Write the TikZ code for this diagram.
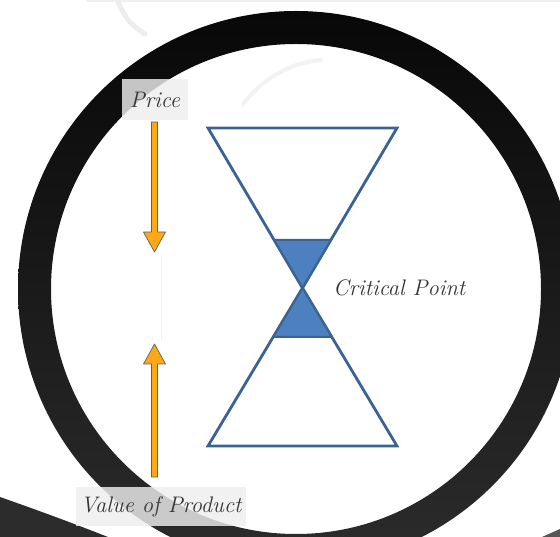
\documentclass[tikz,border=0pt]{standalone}
\usepackage{xcolor}
\usepackage{tikz}
\usetikzlibrary{positioning, calc}
\definecolor{ringtop}{RGB}{8, 8, 8}
\definecolor{ringbottom}{RGB}{44, 44, 44}
\definecolor{hgblue}{RGB}{76, 128, 190}
\definecolor{hgedge}{RGB}{58, 99, 148}
\definecolor{arroworange}{RGB}{255, 168, 22}
\definecolor{arrowedge}{RGB}{95, 95, 95}
\definecolor{labelgray}{RGB}{52, 52, 52}
\definecolor{tagfill}{RGB}{238, 238, 238}

\begin{document}
\begin{tikzpicture}[x=1pt, y=-1pt,
    tag/.style={fill=tagfill, fill opacity=0.82, text opacity=1, text=labelgray,
                font=\fontsize{22.5}{27}\selectfont\itshape, inner sep=0pt},
    hglass/.style={draw=hgedge, line width=2.8pt, fill=white},
    sand/.style={draw=hgedge, line width=2pt, fill=hgblue, line join=round},
    valarrow/.style={fill=arroworange, draw=arrowedge, line width=0.7pt, line join=round}]
  \useasboundingbox (0,0) rectangle (560,537);
  \clip (0,0) rectangle (560,537);

  % Ghost strokes
  \draw[black!6, line width=2pt] (86,1) -- (560,1);
  \draw[black!7, line width=5pt, line cap=round] (145,34) .. controls (128,22) .. (118,2);
  \draw[black!5, line width=4pt, line cap=round] (243,104) .. controls (270,70) and (300,62) .. (321,60);

  % Ring
  \coordinate (ringc) at (296,289);
  \shade[top color=ringtop, bottom color=ringbottom, even odd rule]
    (ringc) circle (278) (ringc) circle (245);
  \fill[ringbottom] (0,497) .. controls (40,511) and (75,524) .. (108,537) -- (0,537) -- cycle;
  \fill[ringbottom!80] (542,537) -- (560,529) -- (560,537) -- cycle;

  % Hourglass
  \coordinate (topL) at (208,128);
  \coordinate (topR) at (397,128);
  \coordinate (waist) at (302.5,288);
  \coordinate (botL) at (208,446);
  \coordinate (botR) at (397,446);
  \draw[hglass] (topL) -- (topR) -- (waist) -- cycle;
  \draw[hglass] (botL) -- (botR) -- (waist) -- cycle;
  \draw[sand] ($(waist)!0.30!(topL)$) -- ($(waist)!0.30!(topR)$) -- (waist) -- cycle;
  \draw[sand] ($(waist)!0.31!(botL)$) -- ($(waist)!0.31!(botR)$) -- (waist) -- cycle;

  % Labels
  \node[tag, minimum width=66pt, minimum height=41pt] (price) at (155,99.5) {Price};
  \node[tag, minimum width=170pt, minimum height=39pt] (value) at (161,506.5) {Value of Product};
  \node[font=\fontsize{22.5}{27}\selectfont\itshape, text=labelgray, right=27pt of waist] (critical) {Critical Point};

  % Arrows
  \coordinate (pricetail) at (154.5,122);
  \coordinate (valuetail) at (154.5,477);
  \draw[black!6, line width=0.6pt] (161,255) -- (161,340);
  \foreach \name/\len/\hd/\hu in {pricetail/110/20/-20, valuetail/-113/-20/20}
    \filldraw[valarrow] (\name) ++(-3,0) -- ++(0,\len) -- ++(-8,0) -- ++(11,\hd)
      -- ++(11,\hu) -- ++(-8,0) -- ++(0,-\len) -- cycle;
\end{tikzpicture}
\end{document}
